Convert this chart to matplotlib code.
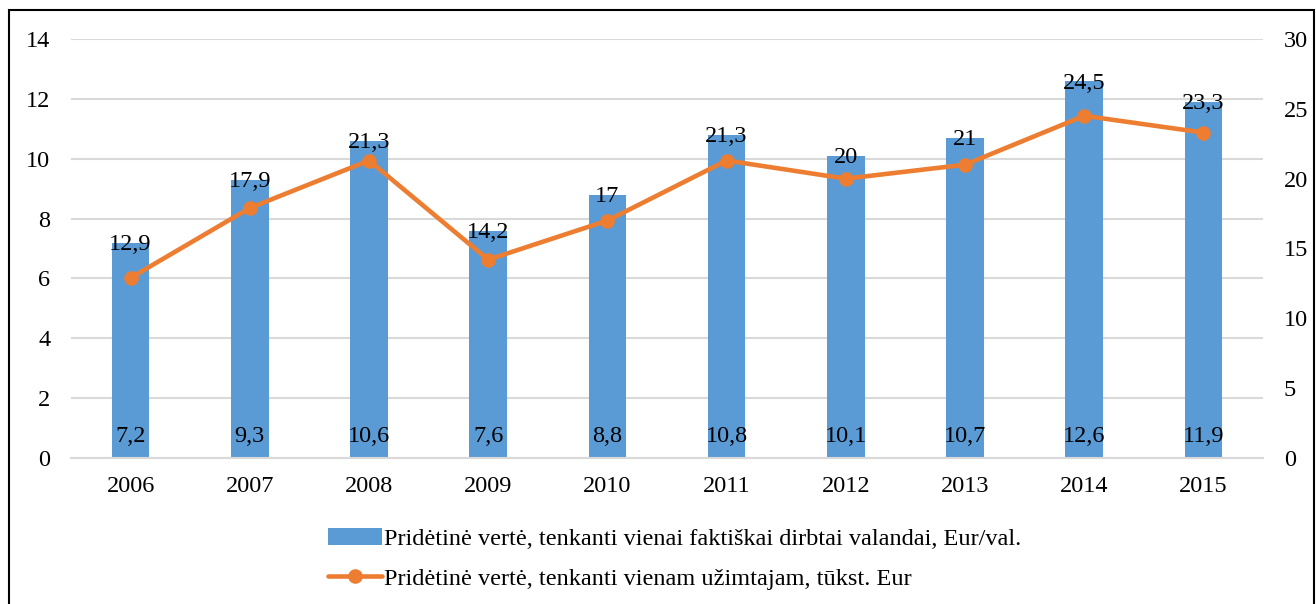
import matplotlib
matplotlib.use("Agg")
import matplotlib.pyplot as plt
from matplotlib.patches import Rectangle
import numpy as np

years = ["2006", "2007", "2008", "2009", "2010", "2011", "2012", "2013", "2014", "2015"]
per_hour = [7.2, 9.3, 10.6, 7.6, 8.8, 10.8, 10.1, 10.7, 12.6, 11.9]
per_employed = [12.9, 17.9, 21.3, 14.2, 17, 21.3, 20, 21, 24.5, 23.3]
bar_label = "Pridėtinė vertė, tenkanti vienai faktiškai dirbtai valandai, Eur/val."
line_label = "Pridėtinė vertė, tenkanti vienam užimtajam, tūkst. Eur"

def fmt(v):
    s = ("%g" % v)
    return s.replace(".", ",")

plt.rcParams['font.family'] = ['Liberation Serif', 'DejaVu Serif']
FS = 17.5
BLUE = "#5b9bd5"
ORANGE = "#ed7d31"
GRID = "#d9d9d9"

fig = plt.figure(figsize=(13.16, 6.04), dpi=100)
ax = fig.add_axes([71/1316, 146/604, (1263-71)/1316, (458-39)/604])
ax2 = ax.twinx()

x = np.arange(len(years))
bars = ax.bar(x, per_hour, width=0.315, color=BLUE, zorder=2, label=bar_label)
ax.set_xlim(-0.5, len(years) - 0.5)
ax.set_ylim(0, 14)
ax.set_yticks(np.arange(0, 15, 2))
ax.yaxis.grid(True, color=GRID, lw=1.5)
ax.set_axisbelow(True)
for s in ["top", "left", "right"]:
    ax.spines[s].set_visible(False)
ax.spines["bottom"].set_color(GRID)
ax.spines["bottom"].set_linewidth(1.5)
ax.set_xticks(x)
ax.set_xticklabels(years)
ax.tick_params(axis="x", length=0, pad=13, labelsize=FS)
ax.tick_params(axis="y", length=0, pad=15, labelsize=FS)

ax2.plot(x, per_employed, color=ORANGE, lw=3.3, marker="o", ms=9.5, zorder=3,
         label=line_label, solid_capstyle="round")
ax2.set_ylim(0, 30)
ax2.set_yticks(np.arange(0, 31, 5))
ax2.tick_params(axis="y", length=0, pad=15, labelsize=FS)
for s in ["top", "left", "right", "bottom"]:
    ax2.spines[s].set_visible(False)

# labels: line values at bar tops, bar values near the base
for xi, h, v in zip(x, per_hour, per_employed):
    ax.annotate(fmt(v), (xi, h), xytext=(0, -5.5), textcoords="offset points",
                ha="center", va="baseline", fontsize=FS, zorder=5)
    ax.annotate(fmt(h), (xi, 0), xytext=(0, 11.5), textcoords="offset points",
                ha="center", va="baseline", fontsize=FS, zorder=5)

h1, l1 = ax.get_legend_handles_labels()
h2, l2 = ax2.get_legend_handles_labels()
leg = fig.legend(h1 + h2, l1 + l2, loc="center", bbox_to_anchor=(675/1316, 1 - 559/604),
                 ncol=1, frameon=False, fontsize=FS, handlelength=2.2,
                 handletextpad=0.1, labelspacing=0.72, borderpad=0)

fig.add_artist(Rectangle((9/1316, -0.05), (1314-9)/1316, 1.05 - 10/604,
                         transform=fig.transFigure, fill=False, ec="black", lw=1.5))

fig.savefig("out.png", dpi=100)
